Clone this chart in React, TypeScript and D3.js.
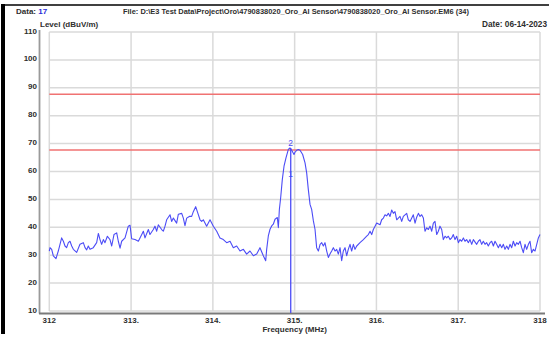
import React from "react";
import * as d3 from "d3";

const W = 549;
const H = 337;

// Header text
const dataLabel = "Data:";
const dataNumber = "17";
const fileLabel = "File: D:\\E3 Test Data\\Project\\Oro\\4790838020_Oro_AI Sensor\\4790838020_Oro_AI Sensor.EM6  (34)";
const dateLabel = "Date: 06-14-2023";
const yTitle = "Level (dBuV/m)";
const xTitle = "Frequency (MHz)";

// Axes
const yTicks = [10, 20, 30, 40, 50, 60, 70, 80, 90, 100, 110];
const xTicks = [312, 313, 314, 315, 316, 317, 318];
const xTickLabels = ["312", "313.", "314.", "315.", "316.", "317.", "318"];

// Limit lines (dBuV/m)
const limitLevels = [87.7, 67.7];

// Markers
const markerIds = ["1", "2"];
const markerFreqs = [314.952, 314.952];
const markerLevels = [57.3, 68.4];

// Measured sweep
const traceFreq = [
  312.0, 312.009, 312.029, 312.049, 312.082, 312.11, 312.151, 312.172, 312.192, 312.212,
  312.233, 312.253, 312.274, 312.294, 312.335, 312.375, 312.416, 312.437, 312.457, 312.477,
  312.498, 312.538, 312.579, 312.6, 312.62, 312.64, 312.661, 312.681, 312.71, 312.742,
  312.763, 312.791, 312.824, 312.844, 312.865, 312.885, 312.926, 312.966, 312.987, 313.007,
  313.048, 313.089, 313.109, 313.15, 313.17, 313.211, 313.231, 313.272, 313.292, 313.313,
  313.333, 313.374, 313.394, 313.415, 313.435, 313.476, 313.496, 313.517, 313.557, 313.578,
  313.619, 313.639, 313.659, 313.68, 313.712, 313.741, 313.761, 313.79, 313.81, 313.843,
  313.863, 313.883, 313.924, 313.965, 314.006, 314.047, 314.087, 314.128, 314.169, 314.21,
  314.25, 314.291, 314.332, 314.373, 314.413, 314.454, 314.495, 314.536, 314.576, 314.617,
  314.646, 314.658, 314.678, 314.699, 314.719, 314.739, 314.76, 314.788, 314.801, 314.813,
  314.829, 314.849, 314.87, 314.894, 314.923, 314.943, 314.964, 314.992, 315.004, 315.025,
  315.045, 315.066, 315.098, 315.127, 315.147, 315.167, 315.188, 315.208, 315.229, 315.249,
  315.269, 315.29, 315.311, 315.331, 315.351, 315.371, 315.392, 315.412, 315.432, 315.453,
  315.473, 315.494, 315.514, 315.534, 315.555, 315.575, 315.595, 315.616, 315.636, 315.656,
  315.677, 315.697, 315.718, 315.738, 315.759, 315.799, 315.84, 315.881, 315.901, 315.922,
  315.942, 315.962, 315.983, 316.003, 316.044, 316.064, 316.085, 316.105, 316.125, 316.146,
  316.166, 316.187, 316.207, 316.227, 316.248, 316.268, 316.288, 316.309, 316.329, 316.37,
  316.39, 316.411, 316.451, 316.472, 316.492, 316.513, 316.533, 316.553, 316.574, 316.594,
  316.615, 316.635, 316.655, 316.676, 316.696, 316.716, 316.737, 316.757, 316.777, 316.798,
  316.818, 316.839, 316.859, 316.879, 316.9, 316.92, 316.94, 316.961, 316.981, 317.002,
  317.022, 317.042, 317.063, 317.083, 317.103, 317.124, 317.144, 317.165, 317.185, 317.226,
  317.246, 317.266, 317.287, 317.307, 317.328, 317.348, 317.368, 317.389, 317.409, 317.43,
  317.45, 317.47, 317.491, 317.511, 317.532, 317.552, 317.572, 317.593, 317.613, 317.633,
  317.654, 317.674, 317.695, 317.715, 317.735, 317.756, 317.776, 317.796, 317.817, 317.837,
  317.858, 317.878, 317.898, 317.919, 317.939, 317.96, 317.98, 318.0,
];
const traceLevel = [
  31.5, 32.7, 32.1, 29.8, 28.8, 31.5, 36.2, 35.0, 33.3, 32.7,
  34.5, 35.0, 33.3, 32.1, 31.0, 33.9, 34.5, 32.7, 31.9, 33.3,
  32.1, 32.7, 34.5, 37.8, 35.6, 33.9, 35.6, 34.5, 36.8, 35.6,
  33.3, 37.4, 38.0, 35.0, 32.5, 35.0, 36.2, 40.4, 40.7, 35.9,
  35.6, 35.0, 36.2, 38.6, 36.2, 39.2, 37.4, 39.2, 40.4, 38.6,
  40.9, 39.2, 38.6, 40.4, 42.7, 44.5, 42.1, 43.3, 41.5, 44.7,
  45.0, 43.3, 40.6, 43.3, 43.9, 43.9, 45.6, 47.4, 45.6, 42.7,
  42.1, 42.7, 40.4, 42.7, 40.4, 38.6, 36.2, 35.6, 34.5, 35.0,
  32.7, 33.3, 31.5, 32.1, 30.4, 31.5, 29.8, 30.4, 32.7, 29.8,
  28.0, 32.1, 36.9, 39.3, 40.5, 41.1, 42.9, 43.5, 39.9, 46.4,
  50.6, 57.1, 61.9, 64.9, 67.9, 68.5, 67.6, 66.1, 66.9, 67.6,
  67.9, 67.6, 66.1, 63.1, 59.5, 53.6, 48.2, 46.4, 42.3, 39.3,
  32.7, 31.5, 33.9, 34.5, 33.3, 34.5, 31.5, 29.2, 30.4, 31.5,
  32.7, 31.5, 32.1, 30.4, 32.7, 28.0, 31.5, 32.7, 29.8, 32.1,
  33.9, 31.5, 33.9, 32.1, 33.3, 34.5, 35.6, 36.8, 37.4, 38.6,
  37.4, 39.2, 40.4, 41.5, 40.9, 42.7, 43.3, 44.5, 44.1, 45.0,
  43.9, 46.2, 45.0, 45.6, 42.7, 43.3, 43.9, 42.1, 43.9, 45.0,
  42.7, 42.1, 44.5, 41.5, 43.6, 45.0, 43.9, 44.5, 43.3, 38.6,
  39.8, 39.2, 40.4, 38.6, 41.5, 42.1, 37.4, 38.6, 40.4, 39.2,
  35.6, 36.8, 36.2, 36.8, 35.6, 36.2, 37.4, 35.6, 36.8, 34.5,
  35.6, 35.0, 36.2, 35.0, 35.6, 34.5, 35.6, 33.9, 35.6, 33.9,
  35.0, 35.6, 33.9, 35.0, 33.9, 34.5, 33.3, 34.5, 35.0, 33.3,
  35.0, 33.9, 32.7, 33.9, 32.7, 33.9, 32.1, 33.3, 32.1, 33.9,
  32.7, 35.0, 33.3, 34.5, 33.9, 35.0, 32.7, 30.9, 33.9, 32.1,
  33.9, 35.0, 30.9, 32.1, 31.5, 33.9, 36.2, 37.4,
];

const FONT = "'Liberation Sans', Arial, sans-serif";
const TEXT = "#2e2e2e";
const BLUE = "#4c4cf6";

export default function App() {
  const x = d3.scaleLinear().domain([312, 318]).range([49.3, 540]);
  const y = d3.scaleLinear().domain([10, 110]).range([311, 32]);

  const points: [number, number][] = traceFreq.map((f, i) => [f, traceLevel[i]]);
  const line = d3
    .line<[number, number]>()
    .x((d) => x(d[0]))
    .y((d) => y(d[1]));

  const [x0, x1] = x.range();

  return (
    <svg
      width={W}
      height={H}
      style={{ position: "absolute", left: 0, top: 0, background: "#fff", display: "block" }}
      fontFamily={FONT}
    >
      {/* page frame */}
      <rect x={1} y={4} width={4} height={330} fill="#000" />
      <line x1={1} x2={W} y1={5} y2={5} stroke="#000" strokeWidth={1.5} />

      {/* header */}
      <text x={16} y={14} fontSize={8} fontWeight="bold" fill={TEXT}>
        {dataLabel} <tspan fill="#2a2ad8">{dataNumber}</tspan>
      </text>
      <text
        x={123}
        y={14}
        fontSize={8}
        fontWeight="bold"
        fill={TEXT}
        textLength={346}
        lengthAdjust="spacingAndGlyphs"
      >
        {fileLabel}
      </text>
      <text
        x={482}
        y={26.5}
        fontSize={8.5}
        fontWeight="bold"
        fill={TEXT}
        textLength={65}
        lengthAdjust="spacingAndGlyphs"
      >
        {dateLabel}
      </text>
      <text x={40} y={26.5} fontSize={8} fontWeight="bold" fill={TEXT}>
        {yTitle}
      </text>

      {/* grid */}
      {xTicks.map((t) => (
        <line key={"gx" + t} x1={x(t)} x2={x(t)} y1={y(110)} y2={y(10)} stroke="#dadada" strokeWidth={1.5} />
      ))}
      {yTicks.map((t) => (
        <line key={"gy" + t} x1={x0} x2={x1} y1={y(t)} y2={y(t)} stroke="#dadada" strokeWidth={1.5} />
      ))}

      {/* axes */}
      <line x1={39.5} x2={39.5} y1={30} y2={313.5} stroke="#9a9a9a" strokeWidth={1.8} />
      <line x1={39} x2={545} y1={313.5} y2={313.5} stroke="#7a7a7a" strokeWidth={2} />

      {/* tick labels */}
      {yTicks.map((t) => (
        <text
          key={"ty" + t}
          x={37}
          y={y(t) + 1.5}
          textAnchor="end"
          fontSize={8}
          fontWeight="bold"
          fill={TEXT}
        >
          {t}
        </text>
      ))}
      {xTicks.map((t, i) => (
        <text
          key={"tx" + t}
          x={x(t)}
          y={322.5}
          textAnchor="middle"
          fontSize={8}
          fontWeight="bold"
          fill={TEXT}
        >
          {xTickLabels[i]}
        </text>
      ))}
      <text x={(x0 + x1) / 2} y={332} textAnchor="middle" fontSize={8} fontWeight="bold" fill={TEXT}>
        {xTitle}
      </text>

      {/* limit lines */}
      {limitLevels.map((v) => (
        <line key={"lim" + v} x1={x0} x2={x1} y1={y(v)} y2={y(v)} stroke="#f07272" strokeWidth={1.5} />
      ))}

      {/* trace */}
      <path d={line(points) ?? ""} fill="none" stroke={BLUE} strokeWidth={1.1} strokeLinejoin="round" />

      {/* marker */}
      <line
        x1={x(markerFreqs[1])}
        x2={x(markerFreqs[1])}
        y1={y(markerLevels[1])}
        y2={313}
        stroke={BLUE}
        strokeWidth={1.3}
      />
      {markerIds.map((id, i) => (
        <text
          key={"m" + id}
          x={x(markerFreqs[i])}
          y={y(markerLevels[i]) - 2}
          textAnchor="middle"
          fontSize={8.5}
          fill={BLUE}
        >
          {id}
        </text>
      ))}
    </svg>
  );
}
